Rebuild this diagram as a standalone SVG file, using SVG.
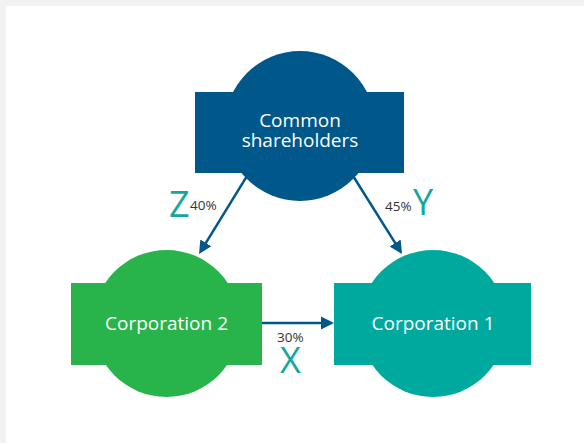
<svg xmlns="http://www.w3.org/2000/svg" width="584" height="443" viewBox="0 0 584 443">
<style>
.lbl{font-family:"Open Sans","Noto Sans",sans-serif;font-size:19px;fill:#ffffff;text-anchor:middle}
.pct{font-family:"Open Sans","Noto Sans",sans-serif;font-size:13.5px;fill:#333333}
.big{font-family:"Open Sans","Noto Sans",sans-serif;font-size:36px;fill:#13a89e}
.conn{stroke:#00578a;stroke-width:2.5;fill:none;marker-end:url(#ah)}
</style>
<defs>
<marker id="ah" markerUnits="userSpaceOnUse" markerWidth="14" markerHeight="14" refX="2" refY="6.5" orient="auto" viewBox="0 0 14 13">
<path d="M0,0 L13,6.5 L0,13 z" fill="#00578a"/>
</marker>
</defs>
<rect x="0" y="0" width="584" height="443" fill="#f2f2f2"/>
<rect x="6" y="6" width="578" height="437" fill="#ffffff"/>
<g id="connectors">
<line class="conn" x1="257.5" y1="159" x2="204.8" y2="244.6"/>
<line class="conn" x1="342.4" y1="159" x2="396.2" y2="244.7"/>
<line class="conn" x1="250" y1="323" x2="323" y2="323"/>
</g>
<g id="common-shareholders">
<circle cx="300" cy="126" r="75" fill="#00578a"/>
<rect x="195" y="92" width="209" height="81" fill="#00578a"/>
<text class="lbl" x="300" y="127">Common</text>
<text class="lbl" x="300" y="147">shareholders</text>
</g>
<g id="corporation-2">
<circle cx="166.5" cy="323.5" r="73.5" fill="#29b34b"/>
<rect x="71" y="283" width="191" height="82" fill="#29b34b"/>
<text class="lbl" x="166.5" y="330">Corporation 2</text>
</g>
<g id="corporation-1">
<circle cx="433" cy="323.5" r="73.5" fill="#00a99d"/>
<rect x="334" y="283" width="197" height="82" fill="#00a99d"/>
<text class="lbl" x="433" y="330">Corporation 1</text>
</g>
<g id="labels">
<text class="big" x="169" y="217">Z</text>
<text class="pct" x="190" y="210">40%</text>
<text class="pct" x="385" y="211">45%</text>
<text class="big" x="413" y="215">Y</text>
<text class="pct" x="277" y="342">30%</text>
<text class="big" x="280" y="373">X</text>
</g>
</svg>
